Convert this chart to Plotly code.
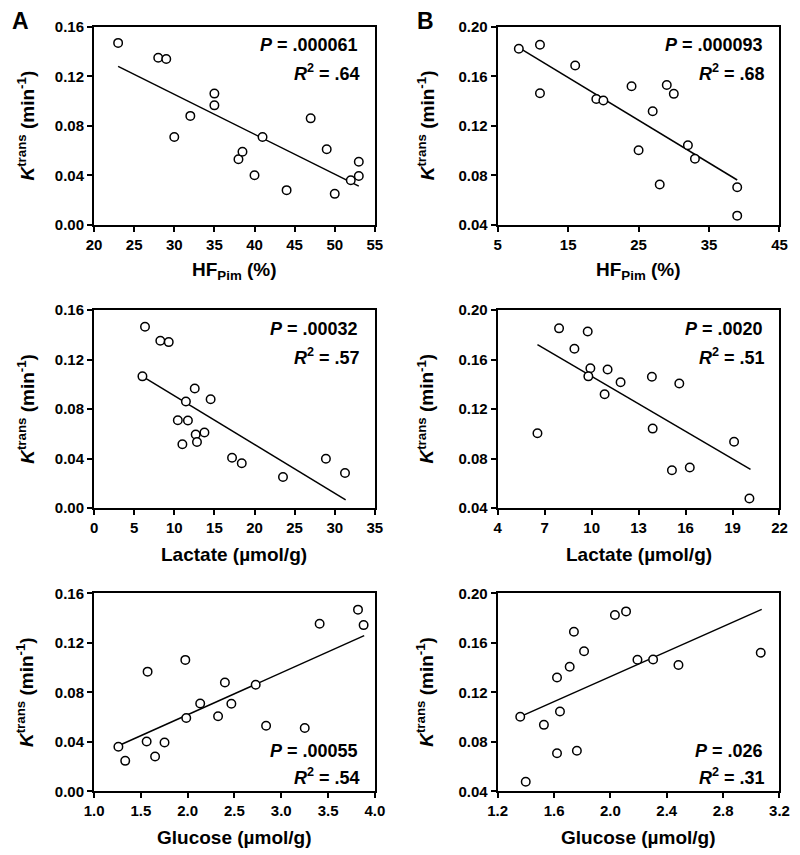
import plotly.graph_objects as go

# ---------------- data ----------------
a_hf_x = [23, 28, 29, 30, 32, 35, 35, 38, 38.5, 40, 41, 44, 47, 49, 50, 52, 53, 53]
a_hf_y = [0.147, 0.135, 0.134, 0.071, 0.088, 0.106, 0.0965, 0.053, 0.059, 0.040,
          0.071, 0.028, 0.086, 0.061, 0.025, 0.036, 0.051, 0.0395]
a_hf_fit_x = [23, 53]
a_hf_fit_y = [0.128, 0.0312]

a_lac_x = [6.35, 8.26, 9.31, 6.03, 12.55, 11.45, 14.53, 10.44, 11.70, 12.67, 13.76,
           12.83, 11.01, 17.2, 18.41, 23.55, 28.9, 31.28]
a_lac_y = [0.1465, 0.1352, 0.1341, 0.1064, 0.0966, 0.0861, 0.0879, 0.0710, 0.0708,
           0.0594, 0.0610, 0.0533, 0.0515, 0.0407, 0.0362, 0.0251, 0.0399, 0.0283]
a_lac_fit_x = [6.03, 31.36]
a_lac_fit_y = [0.1064, 0.0066]

a_glu_x = [1.26, 1.333, 1.562, 1.572, 1.652, 1.753, 1.975, 1.985, 2.134, 2.325, 2.398,
           2.467, 2.727, 2.838, 3.251, 3.41, 3.82, 3.88]
a_glu_y = [0.0360, 0.0246, 0.0403, 0.0967, 0.0281, 0.0395, 0.1062, 0.0593, 0.0710,
           0.0607, 0.0879, 0.0707, 0.0861, 0.0530, 0.0511, 0.1354, 0.1468, 0.1343]
a_glu_fit_x = [1.26, 3.886]
a_glu_fit_y = [0.0368, 0.1258]

b_hf_x = [8, 11, 11, 16, 19, 20, 24, 25, 27, 28, 29, 30, 32, 33, 39, 39]
b_hf_y = [0.1823, 0.1855, 0.1463, 0.1688, 0.1416, 0.1405, 0.1519, 0.1003, 0.1318,
          0.0725, 0.1529, 0.1458, 0.1043, 0.0934, 0.0704, 0.0474]
b_hf_fit_x = [8, 39]
b_hf_fit_y = [0.1831, 0.0762]

b_lac_x = [6.54, 7.92, 8.90, 9.75, 9.92, 9.79, 11.02, 10.83, 11.85, 13.85, 13.90,
           15.60, 15.13, 16.27, 19.10, 20.08]
b_lac_y = [0.1005, 0.1852, 0.1688, 0.1826, 0.1530, 0.1464, 0.1519, 0.1319, 0.1417,
           0.1461, 0.1042, 0.1406, 0.0706, 0.0727, 0.0936, 0.0477]
b_lac_fit_x = [6.54, 20.15]
b_lac_fit_y = [0.172, 0.0712]

b_glu_x = [1.36, 1.399, 1.528, 1.621, 1.621, 1.642, 1.711, 1.741, 1.762, 1.813, 2.032,
           2.111, 2.192, 2.303, 2.483, 3.067]
b_glu_y = [0.1003, 0.0477, 0.0937, 0.132, 0.0707, 0.1045, 0.1407, 0.169, 0.0728,
           0.1531, 0.1825, 0.1854, 0.1463, 0.1465, 0.142, 0.152]
b_glu_fit_x = [1.36, 3.074]
b_glu_fit_y = [0.1003, 0.187]

p_texts = ["= .000061", "= .000093", "= .00032", "= .0020", "= .00055", "= .026"]
r2_texts = ["= .64", "= .68", "= .57", "= .51", "= .54", "= .31"]
x_titles = ["HF<sub>Pim</sub> (%)", "HF<sub>Pim</sub> (%)",
            "Lactate (µmol/g)", "Lactate (µmol/g)",
            "Glucose (µmol/g)", "Glucose (µmol/g)"]
y_title = "<i>K</i><sup>trans</sup> (min<sup>-1</sup>)"

# ---------------- layout helpers ----------------
W, H = 800, 855
OFF = 8  # the page body margin shifts the figure by 8 px
FONT = "Liberation Sans, Arial, Helvetica, sans-serif"


def px(x):
    return (x - OFF) / W


def py(y):
    return 1 - (y - OFF) / H


col_px = [(86, 374), (500, 789)]
row_px = [(18, 220), (307, 509), (596, 798)]

panels = [
    (0, 0, a_hf_x, a_hf_y, a_hf_fit_x, a_hf_fit_y, [20, 55], 5, "d", [0, 0.16], "top"),
    (0, 1, b_hf_x, b_hf_y, b_hf_fit_x, b_hf_fit_y, [5, 45], 10, "d", [0.04, 0.20], "top"),
    (1, 0, a_lac_x, a_lac_y, a_lac_fit_x, a_lac_fit_y, [0, 35], 5, "d", [0, 0.16], "top"),
    (1, 1, b_lac_x, b_lac_y, b_lac_fit_x, b_lac_fit_y, [4, 22], 3, "d", [0.04, 0.20], "top"),
    (2, 0, a_glu_x, a_glu_y, a_glu_fit_x, a_glu_fit_y, [1.0, 4.0], 0.5, ".1f", [0, 0.16], "bottom"),
    (2, 1, b_glu_x, b_glu_y, b_glu_fit_x, b_glu_fit_y, [1.2, 3.2], 0.4, ".1f", [0.04, 0.20], "bottom"),
]

fig = go.Figure()
layout = dict(
    width=W, height=H,
    margin=dict(l=0, r=0, t=0, b=0),
    paper_bgcolor="white", plot_bgcolor="white",
    showlegend=False,
    font=dict(family=FONT, color="black"),
)
annotations = []

for i, (r, c, xs, ys, fx, fy, xr, dt, xfmt, yr, apos) in enumerate(panels):
    n = "" if i == 0 else str(i + 1)
    xa, ya = "x" + n, "y" + n
    x0, x1 = col_px[c]
    y0, y1 = row_px[r]
    axis_common = dict(
        showline=True, linecolor="black", linewidth=2, mirror=True,
        ticks="outside", ticklen=5, tickwidth=2, tickcolor="black",
        showgrid=False, zeroline=False,
        tickfont=dict(family=FONT, size=15, color="black", weight="bold"),
    )
    layout["xaxis" + n] = dict(
        domain=[px(x0), px(x1)], anchor=ya, range=xr, dtick=dt, tick0=xr[0],
        tickformat=xfmt, **axis_common)
    layout["yaxis" + n] = dict(
        domain=[py(y1), py(y0)], anchor=xa, range=yr, dtick=0.04, tick0=yr[0],
        tickformat=".2f", **axis_common)

    fig.add_trace(go.Scatter(
        x=fx, y=fy, mode="lines", line=dict(color="black", width=1.5),
        xaxis=xa, yaxis=ya, hoverinfo="skip"))
    fig.add_trace(go.Scatter(
        x=xs, y=ys, mode="markers", xaxis=xa, yaxis=ya,
        marker=dict(symbol="circle", size=8.5, color="white",
                    line=dict(color="black", width=1.5))))

    if apos == "top":
        yp, yr2 = y0 + 19, y0 + 47
    else:
        yp, yr2 = y1 - 41, y1 - 15
    annotations.append(dict(
        x=px(x1 - 15), y=py(yp), xref="paper", yref="paper",
        xanchor="right", yanchor="middle", showarrow=False,
        text="<i>P</i> " + p_texts[i],
        font=dict(family=FONT, size=18, color="black", weight="bold")))
    annotations.append(dict(
        x=px(x1 - 13), y=py(yr2), xref="paper", yref="paper",
        xanchor="right", yanchor="middle", showarrow=False,
        text="<i>R</i><sup>2</sup> " + r2_texts[i],
        font=dict(family=FONT, size=18, color="black", weight="bold")))

    annotations.append(dict(
        x=px((x0 + x1) / 2), y=py(y1 + 47), xref="paper", yref="paper",
        xanchor="center", yanchor="middle", showarrow=False,
        text=x_titles[i],
        font=dict(family=FONT, size=19, color="black", weight="bold")))
    annotations.append(dict(
        x=px(16 if c == 0 else 426), y=py((y0 + y1) / 2), xref="paper", yref="paper",
        xanchor="center", yanchor="middle", showarrow=False, textangle=-90,
        text=y_title,
        font=dict(family=FONT, size=19, color="black", weight="bold")))

for letter, lx in (("A", 11), ("B", 426)):
    annotations.append(dict(
        x=px(lx), y=py(12), xref="paper", yref="paper",
        xanchor="center", yanchor="middle", showarrow=False, text=letter,
        font=dict(family=FONT, size=23, color="black", weight="bold")))

layout["annotations"] = annotations
fig.update_layout(**layout)
fig.write_html("out.html")
